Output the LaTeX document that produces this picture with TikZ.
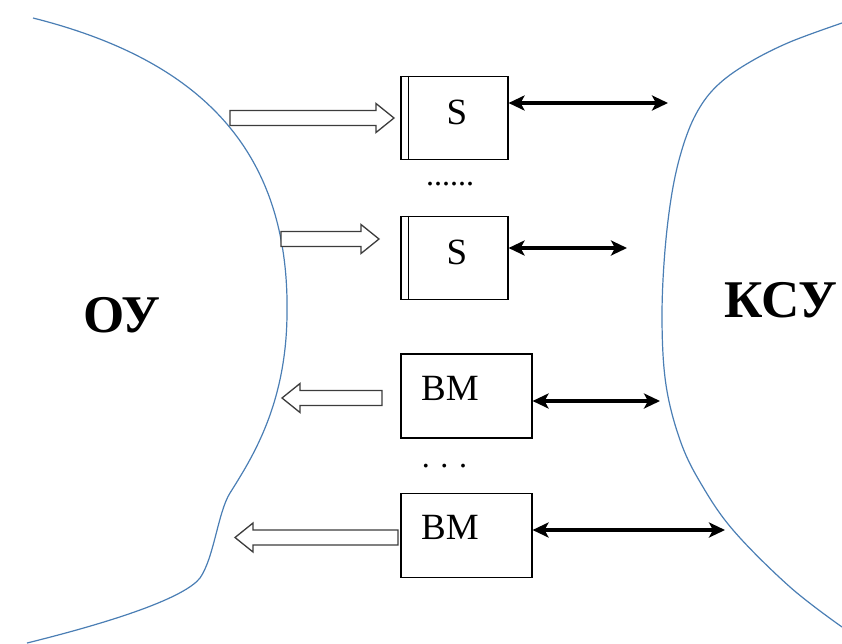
\documentclass[tikz,border=0pt]{standalone}
\usepackage{fontspec}
\setmainfont{Liberation Serif}
\usetikzlibrary{arrows.meta,calc}
\definecolor{edge}{RGB}{74,126,180}
\definecolor{outline}{RGB}{60,60,60}

% hollow block arrow from coordinate #1 (tail) to coordinate #2 (tip)
\newcommand\blockarrow[2]{%
  \coordinate (#2-base) at ($(#2)!18pt!(#1)$);
  \draw[hollow] ($(#1)+(0pt,7.5pt)$) -- ($(#2-base)+(0pt,7.5pt)$)
    -- ($(#2-base)+(0pt,14.5pt)$) -- (#2) -- ($(#2-base)+(0pt,-14.5pt)$)
    -- ($(#2-base)+(0pt,-7.5pt)$) -- ($(#1)+(0pt,-7.5pt)$) -- cycle;}

\begin{document}
\begin{tikzpicture}[x=1pt,y=-1pt,
  boundary/.style={draw=edge,line width=1.2pt},
  sensor/.style={draw,line width=1.1pt,minimum width=107pt,minimum height=83pt,inner sep=0pt},
  actuator/.style={sensor,minimum width=131pt,minimum height=84pt},
  hollow/.style={draw=outline,line width=1.3pt,fill=white,line join=miter},
  link/.style={line width=3.2pt,
    {Stealth[length=16pt,width=15pt,inset=4pt]}-{Stealth[length=16pt,width=15pt,inset=4pt]}},
  big/.style={font=\fontsize{53}{62}\selectfont\bfseries,anchor=base,inner sep=0pt},
  lbl/.style={font=\fontsize{37}{44}\selectfont,anchor=base,inner sep=0pt},
  dots/.style={font=\fontsize{32}{38}\selectfont,anchor=base,inner sep=0pt},
]
\useasboundingbox (0,0) rectangle (842,643);

% boundary of the controlled object
\draw[boundary] (33,18) .. controls (200,60) and (290,150) .. (287,315)
  .. controls (286,405) and (252,458) .. (230,493)
  .. controls (218,512) and (214,558) .. (200,578)
  .. controls (185,597) and (120,620) .. (27,643);
% boundary of the control system
\draw[boundary] plot[smooth,tension=0.6] coordinates {
  (842,23) (790,42) (750,62) (720,83) (700,107) (685,140) (673,187)
  (665,250) (662,320) (666,385) (680,440) (700,482) (733,530)
  (790,587) (842,627)};

\node[big] (ou) at (122,332) {ОУ};
\node[big] (ksu) at (781,317) {КСУ};

% sensors
\node[sensor] (S1) at (454.5,118) {};
\node[sensor] (S2) at (454.5,258) {};
\foreach \b in {S1,S2}
  \draw[line width=1.1pt] ([xshift=8pt]\b.north west) -- ([xshift=8pt]\b.south west);
\node[lbl] (S1t) at (457,124.5) {S};
\node[lbl] (S2t) at (457,264.5) {S};
\node[dots] (sdots) at (450,185) {......};

% actuators
\node[actuator] (B1) at (466.5,396) {};
\node[actuator] (B2) at (466.5,535.5) {};
\node[lbl] (B1t) at (450,400) {ВМ};
\node[lbl] (B2t) at (450,539) {ВМ};
\node[dots] (bdots) at (444.5,467) {. . .};

% signal flows from and to the object
\coordinate (a1) at (230,118); \coordinate (a1e) at (394,118);
\coordinate (a2) at (281,239); \coordinate (a2e) at (379,239);
\coordinate (a3) at (382,398); \coordinate (a3e) at (282,398);
\coordinate (a4) at (398,537.5); \coordinate (a4e) at (235,537.5);
\blockarrow{a1}{a1e}
\blockarrow{a2}{a2e}
\blockarrow{a3}{a3e}
\blockarrow{a4}{a4e}

% exchange with the control system
\coordinate (k1) at (668,103);
\coordinate (k2) at (627,248);
\coordinate (k3) at (660,401);
\coordinate (k4) at (725,530);
\draw[link] (S1.east |- k1) -- (k1);
\draw[link] (S2.east |- k2) -- (k2);
\draw[link] (B1.east |- k3) -- (k3);
\draw[link] (B2.east |- k4) -- (k4);
\end{tikzpicture}
\end{document}
